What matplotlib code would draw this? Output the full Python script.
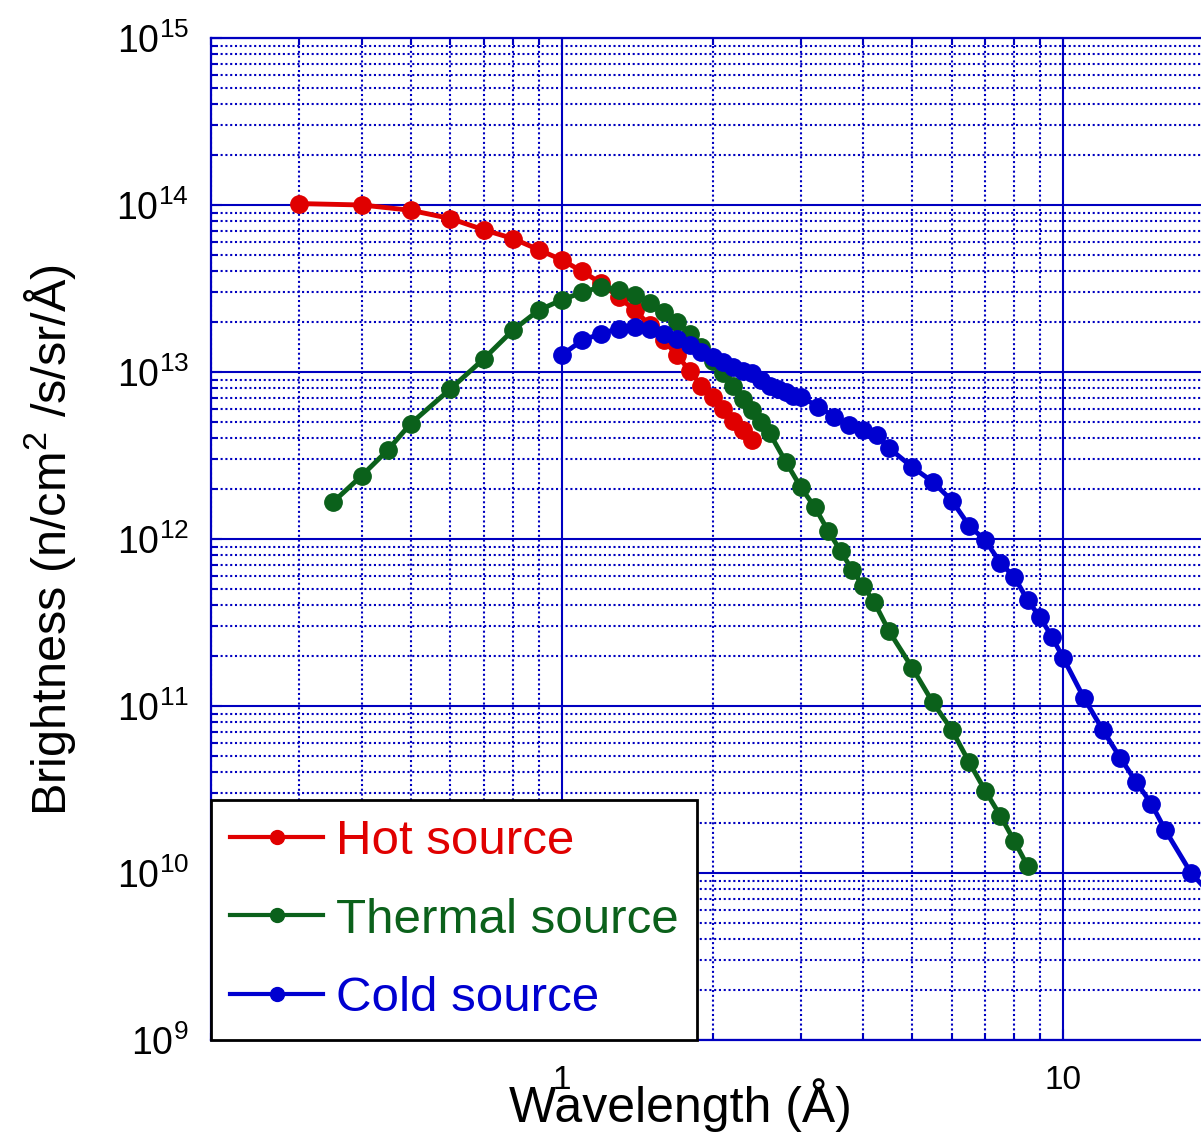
import matplotlib
matplotlib.use("Agg")
import matplotlib.pyplot as plt
from matplotlib.ticker import NullFormatter

plt.rcParams['font.family'] = ['Liberation Sans', 'DejaVu Sans']
plt.rcParams['mathtext.fontset'] = 'custom'
plt.rcParams['mathtext.rm'] = 'Liberation Sans'
plt.rcParams['mathtext.it'] = 'Liberation Sans:italic'

# wavelength (A) and brightness (n/cm2/s/sr/A)
hot_wl = [0.3, 0.4, 0.5, 0.6, 0.7, 0.8, 0.9, 1.0, 1.1, 1.2, 1.3, 1.4, 1.5,
          1.6, 1.7, 1.8, 1.9, 2.0, 2.1, 2.2, 2.3, 2.4]
hot_br = [1.02e14, 1.0e14, 9.3e13, 8.3e13, 7.1e13, 6.3e13, 5.4e13, 4.7e13,
          4.0e13, 3.4e13, 2.8e13, 2.35e13, 1.9e13, 1.55e13, 1.26e13, 1.02e13,
          8.3e12, 7.1e12, 6.0e12, 5.1e12, 4.5e12, 3.9e12]

thermal_wl = [0.35, 0.4, 0.45, 0.5, 0.6, 0.7, 0.8, 0.9, 1.0, 1.1, 1.2, 1.3,
              1.4, 1.5, 1.6, 1.7, 1.8, 1.9, 2.0, 2.1, 2.2, 2.3, 2.4, 2.5, 2.6,
              2.8, 3.0, 3.2, 3.4, 3.6, 3.8, 4.0, 4.2, 4.5, 5.0, 5.5, 6.0, 6.5,
              7.0, 7.5, 8.0, 8.5]
thermal_br = [1.66e12, 2.4e12, 3.4e12, 4.9e12, 7.9e12, 1.2e13, 1.78e13,
              2.34e13, 2.7e13, 3.0e13, 3.24e13, 3.1e13, 2.9e13, 2.6e13, 2.3e13,
              2.0e13, 1.7e13, 1.41e13, 1.17e13, 9.8e12, 8.3e12, 6.9e12, 5.9e12,
              5.0e12, 4.3e12, 2.9e12, 2.04e12, 1.55e12, 1.12e12, 8.5e11,
              6.5e11, 5.2e11, 4.2e11, 2.8e11, 1.7e11, 1.05e11, 7.2e10, 4.6e10,
              3.1e10, 2.2e10, 1.55e10, 1.1e10]

cold_wl = [1.0, 1.1, 1.2, 1.3, 1.4, 1.5, 1.6, 1.7, 1.8, 1.9, 2.0, 2.1, 2.2,
           2.3, 2.4, 2.5, 2.6, 2.7, 2.8, 2.9, 3.0, 3.25, 3.5, 3.75, 4.0, 4.25,
           4.5, 5.0, 5.5, 6.0, 6.5, 7.0, 7.5, 8.0, 8.5, 9.0, 9.5, 10, 11, 12,
           13, 14, 15, 16, 18, 20]
cold_br = [1.26e13, 1.55e13, 1.7e13, 1.82e13, 1.86e13, 1.82e13, 1.7e13,
           1.58e13, 1.45e13, 1.32e13, 1.23e13, 1.15e13, 1.07e13, 1.02e13,
           9.8e12, 8.9e12, 8.3e12, 7.9e12, 7.6e12, 7.2e12, 7.1e12, 6.2e12,
           5.4e12, 4.8e12, 4.5e12, 4.2e12, 3.5e12, 2.7e12, 2.2e12, 1.7e12,
           1.2e12, 9.8e11, 7.2e11, 5.9e11, 4.3e11, 3.4e11, 2.6e11, 1.95e11,
           1.12e11, 7.2e10, 4.9e10, 3.5e10, 2.6e10, 1.8e10, 1.0e10, 7.1e9]

red = '#e00000'
green = '#0b611b'
blue = '#0000d0'
gridc = '#0000c0'

fig = plt.figure(figsize=(12.01, 11.36), dpi=100)
# axes runs past the right edge of the picture, as in the original
ax = fig.add_axes([211/1201, 96/1136, 1003/1201, 1002/1136])

ax.plot(hot_wl, hot_br, '-o', color=red, lw=3.5, ms=12.5, label='Hot source')
ax.plot(thermal_wl, thermal_br, '-o', color=green, lw=3.5, ms=12.5, label='Thermal source')
ax.plot(cold_wl, cold_br, '-o', color=blue, lw=3.5, ms=12.5, label='Cold source')

ax.set_xscale('log')
ax.set_yscale('log')
ax.set_xlim(0.2, 20)
ax.set_ylim(1e9, 1e15)

ax.set_xticks([1, 10], ['1', '10'])
ax.xaxis.set_minor_formatter(NullFormatter())
ax.yaxis.set_minor_formatter(NullFormatter())
ax.set_yticks([1e9, 1e10, 1e11, 1e12, 1e13, 1e14, 1e15])

ax.grid(True, which='major', color=gridc, ls='-', lw=1.5)
ax.grid(True, which='minor', color=gridc, ls=(0, (1, 1.3)), lw=1.5)
ax.set_axisbelow(True)

for s in ax.spines.values():
    s.set_color(gridc)
    s.set_linewidth(1.6)

ax.tick_params(which='both', direction='in', color=gridc, top=True, right=True)
ax.tick_params(which='major', length=8, width=1.5)
ax.tick_params(which='minor', length=5, width=1.5)
ax.tick_params(axis='y', labelsize=27, pad=16)
ax.tick_params(axis='x', labelsize=24, pad=18)

ax.set_xlabel('Wavelength (Å)', fontsize=36, va='center')
ax.xaxis.set_label_coords(0.4676, -0.065)
ax.set_ylabel('Brightness (n/cm$^{2}$ /s/sr/Å)', fontsize=35, va='center')
ax.yaxis.set_label_coords(-0.1605, 0.499)

leg = ax.legend(loc='lower left', bbox_to_anchor=(0, 0), borderaxespad=0,
                fontsize=35.5, labelcolor='linecolor', fancybox=False,
                edgecolor='black', framealpha=1, handlelength=1.9,
                handletextpad=0.25, labelspacing=0.68, borderpad=0.38,
                markerscale=0.8)
leg.get_frame().set_linewidth(2)
for h in leg.get_lines():
    h.set_linewidth(3)

fig.savefig('out.png', dpi=100)
